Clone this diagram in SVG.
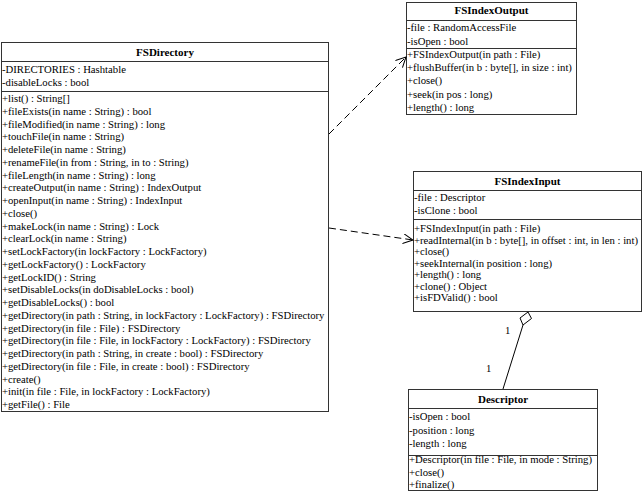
<svg xmlns="http://www.w3.org/2000/svg" width="644" height="493" viewBox="0 0 644 493" font-family="Liberation Serif, DejaVu Serif, serif">
<defs>
<style>
text{font-family:'Liberation Serif','DejaVu Serif',serif;font-size:10.7px;fill:#000}
.t{font-weight:bold;text-anchor:middle;font-size:11px}
.box{fill:#fff;stroke:#333;stroke-width:1}
.sep{stroke:#333;stroke-width:1}
.dash{fill:none;stroke:#000;stroke-width:1;stroke-dasharray:7,4}
.solid{fill:none;stroke:#000;stroke-width:1}
</style>
<marker id="open" markerWidth="12" markerHeight="12" refX="10" refY="5" orient="auto" markerUnits="userSpaceOnUse">
<path d="M0,0 L10,5 L0,10" fill="none" stroke="#000" stroke-width="1"/>
</marker>
</defs>
<rect width="644" height="493" fill="#fff"/>

<g id="FSDirectory">
<rect class="box" x="1.5" y="42.5" width="327" height="369"/>
<line class="sep" x1="1.5" y1="61.5" x2="328.5" y2="61.5"/>
<line class="sep" x1="1.5" y1="91.5" x2="328.5" y2="91.5"/>
<text class="t" x="165" y="56">FSDirectory</text>
<text x="2" y="73">-DIRECTORIES : Hashtable</text>
<text x="2" y="86">-disableLocks : bool</text>
<text x="2" y="102">+list() : String[]</text>
<text x="2" y="114.75">+fileExists(in name : String) : bool</text>
<text x="2" y="127.5">+fileModified(in name : String) : long</text>
<text x="2" y="140.25">+touchFile(in name : String)</text>
<text x="2" y="153">+deleteFile(in name : String)</text>
<text x="2" y="165.75">+renameFile(in from : String, in to : String)</text>
<text x="2" y="178.5">+fileLength(in name : String) : long</text>
<text x="2" y="191.25">+createOutput(in name : String) : IndexOutput</text>
<text x="2" y="204">+openInput(in name : String) : IndexInput</text>
<text x="2" y="216.75">+close()</text>
<text x="2" y="229.5">+makeLock(in name : String) : Lock</text>
<text x="2" y="242.25">+clearLock(in name : String)</text>
<text x="2" y="255">+setLockFactory(in lockFactory : LockFactory)</text>
<text x="2" y="267.75">+getLockFactory() : LockFactory</text>
<text x="2" y="280.5">+getLockID() : String</text>
<text x="2" y="293.25">+setDisableLocks(in doDisableLocks : bool)</text>
<text x="2" y="306">+getDisableLocks() : bool</text>
<text x="2" y="318.75">+getDirectory(in path : String, in lockFactory : LockFactory) : FSDirectory</text>
<text x="2" y="331.5">+getDirectory(in file : File) : FSDirectory</text>
<text x="2" y="344.25">+getDirectory(in file : File, in lockFactory : LockFactory) : FSDirectory</text>
<text x="2" y="357">+getDirectory(in path : String, in create : bool) : FSDirectory</text>
<text x="2" y="369.75">+getDirectory(in file : File, in create : bool) : FSDirectory</text>
<text x="2" y="382.5">+create()</text>
<text x="2" y="395.25">+init(in file : File, in lockFactory : LockFactory)</text>
<text x="2" y="408">+getFile() : File</text>
</g>

<g id="FSIndexOutput">
<rect class="box" x="406.5" y="2.5" width="170" height="112"/>
<line class="sep" x1="406.5" y1="20.5" x2="576.5" y2="20.5"/>
<line class="sep" x1="406.5" y1="48.5" x2="576.5" y2="48.5"/>
<text class="t" x="491.5" y="14">FSIndexOutput</text>
<text x="407" y="31">-file : RandomAccessFile</text>
<text x="407" y="45">-isOpen : bool</text>
<text x="407" y="58">+FSIndexOutput(in path : File)</text>
<text x="407" y="71.2">+flushBuffer(in b : byte[], in size : int)</text>
<text x="407" y="84.4">+close()</text>
<text x="407" y="97.6">+seek(in pos : long)</text>
<text x="407" y="110.8">+length() : long</text>
</g>

<g id="FSIndexInput">
<rect class="box" x="413.5" y="171.5" width="228" height="140"/>
<line class="sep" x1="413.5" y1="190.5" x2="641.5" y2="190.5"/>
<line class="sep" x1="413.5" y1="219.5" x2="641.5" y2="219.5"/>
<text class="t" x="527.5" y="185">FSIndexInput</text>
<text x="414" y="201">-file : Descriptor</text>
<text x="414" y="214">-isClone : bool</text>
<text x="414" y="232">+FSIndexInput(in path : File)</text>
<text x="414" y="243.5">+readInternal(in b : byte[], in offset : int, in len : int)</text>
<text x="414" y="255">+close()</text>
<text x="414" y="266.5">+seekInternal(in position : long)</text>
<text x="414" y="278">+length() : long</text>
<text x="414" y="289.5">+clone() : Object</text>
<text x="414" y="301">+isFDValid() : bool</text>
</g>

<g id="Descriptor">
<rect class="box" x="408.5" y="389.5" width="189" height="101"/>
<line class="sep" x1="408.5" y1="408.5" x2="597.5" y2="408.5"/>
<line class="sep" x1="408.5" y1="455.5" x2="597.5" y2="455.5"/>
<text class="t" x="503" y="403">Descriptor</text>
<text x="409" y="420">-isOpen : bool</text>
<text x="409" y="433.5">-position : long</text>
<text x="409" y="447">-length : long</text>
<text x="409" y="463">+Descriptor(in file : File, in mode : String)</text>
<text x="409" y="475.5">+close()</text>
<text x="409" y="488">+finalize()</text>
</g>

<g id="connectors">
<line class="dash" x1="329" y1="134" x2="406" y2="57" marker-end="url(#open)"/>
<line class="dash" x1="329" y1="228" x2="413" y2="240" marker-end="url(#open)"/>
<path class="solid" d="M503,389 L523,325"/>
<path class="solid" d="M528,312 L531.5,318.5 L523,325 L520,318 Z" fill="#fff"/>
<text x="505" y="334">1</text>
<text x="486" y="372">1</text>
</g>
</svg>
